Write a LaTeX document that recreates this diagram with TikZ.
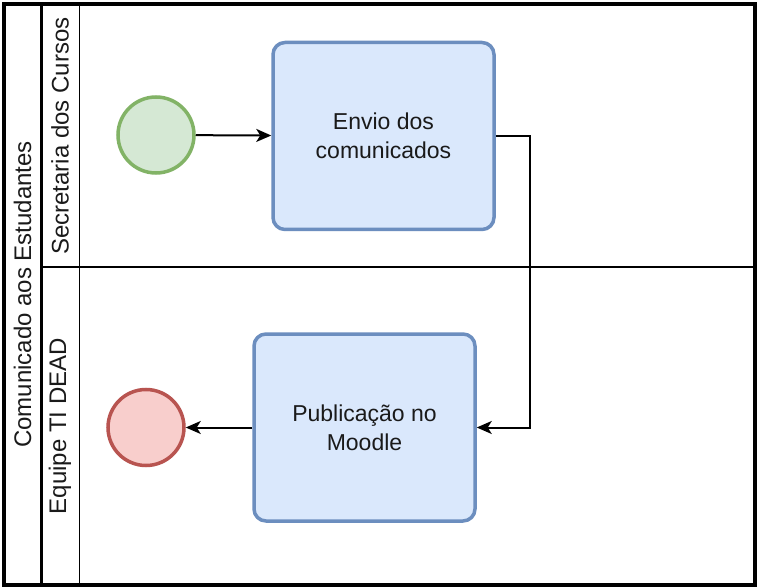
\documentclass[tikz,border=0pt]{standalone}
\usepackage{fontspec}
\setmainfont{Liberation Sans}
\usetikzlibrary{arrows.meta, positioning}

\definecolor{taskfill}{HTML}{DAE8FC}
\definecolor{taskline}{HTML}{6C8EBF}
\definecolor{startfill}{HTML}{D5E8D4}
\definecolor{startline}{HTML}{82B366}
\definecolor{endfill}{HTML}{F8CECC}
\definecolor{endline}{HTML}{B85450}
\definecolor{labeltext}{HTML}{1A1A1A}

\begin{document}
\begin{tikzpicture}[
    x=1pt, y=-1pt, % pixel-like units, y grows downwards
    % Define task style
    task style/.style={
        draw=taskline, % Blue border
        fill=taskfill, % Light blue fill
        line width=3.5pt, % Border thickness
        rounded corners=12pt, % Rounded corners
        minimum width=221pt, % Minimum width
        minimum height=187pt, % Minimum height
        align=center, % Center alignment
        text=labeltext,
        font=\fontsize{23}{29}\selectfont
      },
    % Define event styles
    event style/.style={
        circle, % Circle shape
        line width=3.5pt, % Border thickness
        minimum size=76pt, % Diameter
        inner sep=0pt
      },
    start style/.style={event style, draw=startline, fill=startfill},
    end style/.style={event style, draw=endline, fill=endfill},
    % Define lane label style
    lane style/.style={
        rotate=90, % Read from bottom to top
        text=labeltext,
        font=\fontsize{24}{29}\selectfont
      },
    % Define arrow style
    flow/.style={
        -{Stealth[length=15pt, width=13pt, inset=4pt]}, % Arrow type
        line width=2pt % Line thickness
      }
  ]

  \useasboundingbox (0,0) rectangle (758,588);

  % Pool and lanes
  \fill[white] (4,4) rectangle (755,585);
  \draw[line width=1.5pt] (41,267) -- (755,267); % lane divider
  \draw[line width=1.5pt] (79.5,4) -- (79.5,585); % lane label column
  \draw[line width=3pt] (41,4) -- (41,585); % pool header column
  \draw[line width=4pt] (4,4) rectangle (755,585); % pool border

  % Lane labels
  \node[lane style] (pool) at (22.5, 294.5) {Comunicado aos Estudantes};
  \node[lane style] (secretaria) at (60, 136) {Secretaria dos Cursos};
  \node[lane style] (equipe) at (60, 426) {Equipe TI DEAD};

  % Define nodes
  \node[start style] (start) at (156, 135) {}; % start event in the upper lane
  \node[task style] (envio) at (383.5, 136) {Envio dos\\comunicados}; % first task
  \node[task style] (publicacao) at (364.5, 427.5) {Publicação no\\Moodle}; % second task
  \node[end style] (end) at (146, 427.5) {}; % end event in the lower lane

  % Draw arrows
  \draw[flow] (start) -- (envio);
  \draw[flow] (envio.east) -- ++(34.5,0) |- (publicacao.east); % down into the other lane
  \draw[flow] (publicacao) -- (end);

\end{tikzpicture}
\end{document}
